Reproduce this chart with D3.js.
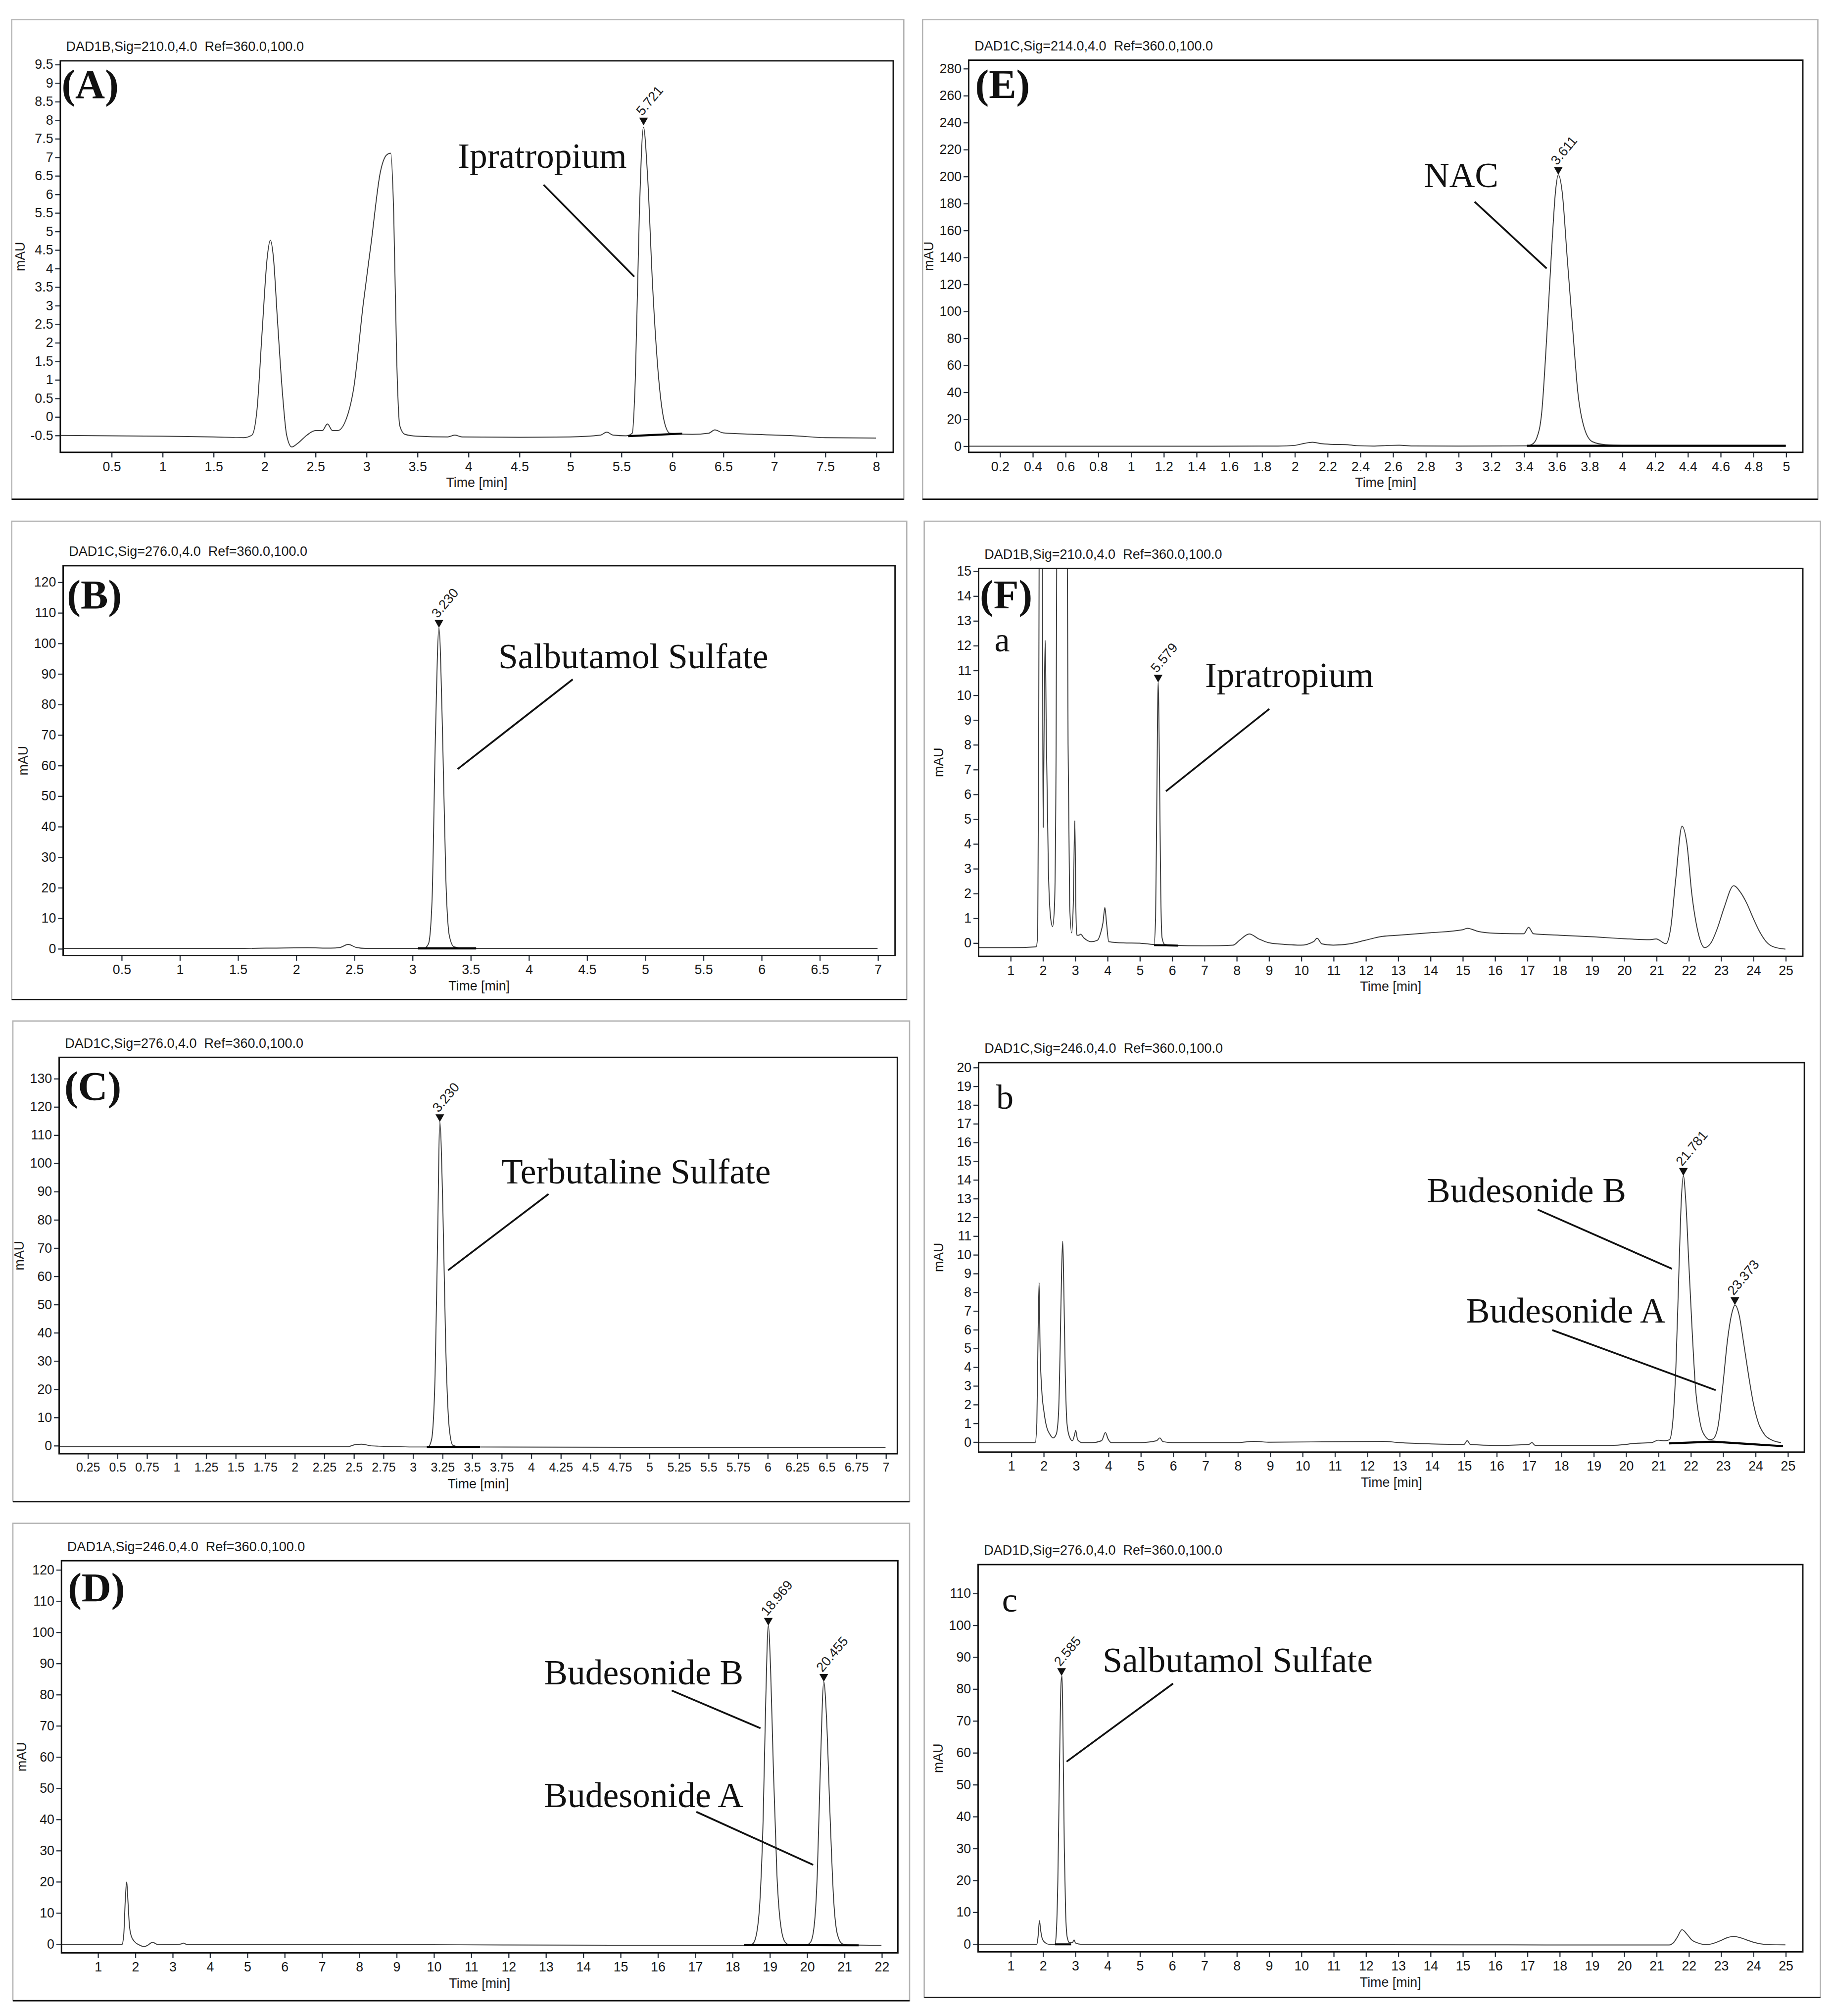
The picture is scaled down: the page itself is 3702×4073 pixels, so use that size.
<!DOCTYPE html>
<html>
<head>
<meta charset="utf-8">
<script src="https://cdn.jsdelivr.net/npm/d3@7"></script>
<style>
  html, body { margin: 0; padding: 0; background: #fff; }
  svg { display: block; }
  .header { white-space: pre; }
</style>
</head>
<body>
<div id="chart"></div>
<script>
// ---------- data: [time (min), signal (mAU)] ----------

const traceA = [[0,-0.51],[0.5,-0.52],[1.0,-0.53],[1.5,-0.55],[1.8,-0.57],[1.88,-0.5],[1.93,0.2],[1.98,2.3],[2.03,4.3],[2.06,4.75],[2.09,4.3],[2.13,2.6],[2.18,0.6],[2.22,-0.5],[2.27,-0.82],[2.33,-0.72],[2.42,-0.5],[2.5,-0.38],[2.57,-0.38],[2.62,-0.2],[2.67,-0.38],[2.72,-0.38],[2.8,-0.1],[2.88,0.8],[2.97,3.0],[3.05,4.7],[3.14,6.6],[3.2,7.05],[3.24,7.1],[3.27,5.5],[3.3,1.5],[3.33,-0.25],[3.38,-0.48],[3.5,-0.53],[3.8,-0.55],[3.87,-0.5],[3.94,-0.55],[4.5,-0.56],[5.0,-0.55],[5.3,-0.5],[5.36,-0.42],[5.42,-0.5],[5.55,-0.52],[5.61,-0.45],[5.64,1.0],[5.68,5.5],[5.72,7.8],[5.76,6.5],[5.81,3.5],[5.87,1.0],[5.93,-0.2],[5.98,-0.45],[6.2,-0.48],[6.36,-0.45],[6.42,-0.36],[6.5,-0.44],[6.8,-0.48],[7.2,-0.52],[7.5,-0.57],[8.0,-0.58]];

const traceE = [[0,-0.3],[0.5,-0.3],[1.0,-0.3],[1.5,-0.3],[1.9,-0.2],[2.0,0.3],[2.06,1.8],[2.11,2.6],[2.17,1.5],[2.24,1.0],[2.31,0.9],[2.38,0.1],[2.48,-0.2],[2.58,0.3],[2.64,0.4],[2.72,-0.1],[3.0,-0.2],[3.3,-0.1],[3.42,0],[3.45,1],[3.48,6],[3.51,25],[3.54,80],[3.57,145],[3.595,190],[3.611,201],[3.635,188],[3.665,140],[3.70,85],[3.73,40],[3.77,13],[3.82,3],[3.9,0.8],[4.0,0.3],[4.5,0],[5.0,0]];

const traceB = [[0,0],[1.5,0],[1.9,0.15],[2.1,0.2],[2.3,0.1],[2.38,0.3],[2.45,1.3],[2.52,0.3],[2.6,0],[3.1,0],[3.14,1.5],[3.17,15],[3.2,70],[3.23,105],[3.26,72],[3.29,22],[3.32,4],[3.36,0.5],[3.45,0],[5,0],[7.0,0]];

const traceC = [[0,-0.5],[2,-0.5],[2.45,-0.5],[2.52,0.3],[2.57,0.4],[2.65,-0.2],[2.8,-0.4],[3.0,-0.6],[3.13,-0.6],[3.16,2],[3.19,25],[3.21,70],[3.23,114.5],[3.255,85],[3.28,35],[3.31,6],[3.34,0],[3.4,-0.6],[5,-0.7],[7,-0.7]];

const traceD = [[0,-0.3],[1.0,-0.3],[1.65,-0.3],[1.7,3],[1.74,14],[1.78,19.8],[1.81,14],[1.85,6],[1.9,2.5],[1.98,0.8],[2.1,-0.3],[2.25,-0.9],[2.35,-0.4],[2.47,0.5],[2.6,-0.2],[3.0,-0.3],[3.22,-0.1],[3.3,0.2],[3.4,-0.3],[4,-0.3],[8,-0.2],[12,-0.4],[18.4,-0.5],[18.55,0],[18.65,3],[18.75,15],[18.83,40],[18.9,78],[18.969,102],[19.03,88],[19.1,58],[19.2,22],[19.3,6],[19.42,0.5],[19.55,-0.4],[20.0,-0.3],[20.1,0.5],[20.2,6],[20.28,22],[20.36,55],[20.455,84],[20.53,72],[20.62,42],[20.72,14],[20.82,3],[20.95,0],[21.1,-0.4],[22,-0.5]];

const traceFa = [[0,-0.2],[1.0,-0.2],[1.8,-0.17],[1.85,0.3],[1.88,8],[1.92,30],[1.96,40],[1.99,20],[2.02,4.66],[2.05,9],[2.08,12.2],[2.12,8],[2.18,3],[2.25,1.0],[2.31,0.65],[2.37,1.5],[2.42,8],[2.46,25],[2.55,40],[2.65,40],[2.74,25],[2.79,8],[2.84,1.5],[2.9,0.4],[2.95,1.5],[3.0,4.92],[3.03,1.5],[3.06,0.3],[3.12,0.3],[3.18,0.34],[3.28,0.19],[3.4,0.08],[3.5,0.04],[3.7,0.1],[3.8,0.4],[3.87,0.8],[3.93,1.42],[3.98,0.8],[4.05,0.04],[4.5,-0.01],[5.0,-0.02],[5.45,-0.07],[5.5,1],[5.54,6],[5.579,10.5],[5.62,7],[5.66,2],[5.7,0.2],[5.78,-0.07],[6,-0.1],[7,-0.13],[7.9,-0.1],[8.1,0.1],[8.4,0.35],[8.7,0.15],[9,0],[9.5,-0.07],[10,-0.1],[10.4,0.05],[10.5,0.18],[10.65,-0.05],[11,-0.1],[11.5,-0.05],[12,0.1],[12.5,0.25],[13,0.3],[14,0.4],[15,0.52],[15.15,0.58],[15.5,0.45],[16,0.38],[16.9,0.36],[17.05,0.62],[17.2,0.36],[18,0.3],[19,0.24],[20,0.16],[20.8,0.12],[21,0.15],[21.3,-0.04],[21.45,0.6],[21.6,2.5],[21.8,4.7],[21.95,4],[22.1,2.0],[22.3,0.4],[22.5,-0.2],[22.7,0],[22.9,0.6],[23.1,1.4],[23.4,2.3],[23.6,2.05],[23.8,1.6],[24.0,1.0],[24.2,0.45],[24.4,0.05],[24.6,-0.15],[25,-0.26]];

const traceFb = [[0,-0.05],[1.0,-0.05],[1.75,-0.05],[1.8,1],[1.84,6],[1.87,8.5],[1.9,5],[1.95,2.8],[2.02,1.6],[2.1,0.8],[2.2,0.4],[2.3,0.2],[2.4,0.4],[2.47,1.5],[2.52,5],[2.57,9.5],[2.6,10.7],[2.63,8.5],[2.68,3.5],[2.73,1.0],[2.8,0.3],[2.9,0.05],[2.97,0.4],[3.0,0.6],[3.06,0.1],[3.2,-0.05],[3.5,-0.05],[3.8,0.05],[3.92,0.49],[4.0,0.15],[4.1,-0.05],[5.0,-0.05],[5.5,0.05],[5.6,0.2],[5.7,0.0],[6,-0.05],[8,-0.05],[8.5,0.02],[9,-0.03],[11,0],[12.5,0.02],[13,-0.05],[14,-0.12],[15,-0.15],[15.1,0.05],[15.2,-0.15],[16,-0.2],[17,-0.15],[17.1,-0.05],[17.2,-0.2],[18,-0.2],[19.5,-0.2],[20,-0.15],[20.2,-0.1],[20.8,-0.05],[21,0.08],[21.2,0.05],[21.35,0.1],[21.45,1.0],[21.55,4.0],[21.65,9.5],[21.72,13],[21.781,14.2],[21.85,13],[21.95,9.5],[22.05,6],[22.15,3],[22.3,1.0],[22.45,0.3],[22.6,0.1],[22.7,0.15],[22.85,0.8],[23.0,3.0],[23.15,5.5],[23.3,7.0],[23.373,7.3],[23.5,6.8],[23.65,5.2],[23.8,3.5],[23.95,2.0],[24.1,1.0],[24.3,0.35],[24.5,0.1],[24.8,-0.05]];

const traceFc = [[0,-0.2],[1.0,-0.2],[1.82,-0.2],[1.86,2.5],[1.9,7.2],[1.94,4],[1.99,1.5],[2.08,0.3],[2.2,-0.2],[2.38,-0.2],[2.42,3],[2.47,20],[2.52,55],[2.57,82],[2.6,84],[2.63,65],[2.67,30],[2.71,10],[2.76,2],[2.83,0.3],[2.92,0.3],[2.97,1.2],[3.02,0.2],[3.2,-0.2],[5,-0.3],[10,-0.3],[15,-0.35],[20,-0.4],[21.4,-0.4],[21.55,0.5],[21.65,2],[21.8,4.4],[21.95,3],[22.1,1.2],[22.3,0.2],[22.55,-0.3],[22.8,0.2],[23.0,1.0],[23.2,1.9],[23.4,2.3],[23.6,1.9],[23.8,1.2],[24.0,0.5],[24.2,0],[24.5,-0.3],[25,-0.35]];

// integration baselines (drawn bold)
const baseA = [[[5.57,-0.53],[6.1,-0.46]]];
const baseE = [[[3.42,0],[5.0,0]]];
const baseB = [[[3.05,0],[3.55,0]]];
const baseC = [[[3.12,-0.6],[3.57,-0.6]]];
const baseD = [[[18.32,-0.4],[21.39,-0.5]]];
const baseFa = [[[5.45,-0.1],[6.2,-0.12]]];
const baseFb = [[[21.34,-0.09],[22.69,0],[24.86,-0.24]]];
const baseFc = [[[2.38,-0.2],[2.88,-0.2]]];

// retention-time markers: [time, apex mAU, label]
const peaksA = [[5.721, 7.85, "5.721"]];
const peaksE = [[3.611, 201, "3.611"]];
const peaksB = [[3.23, 105, "3.230"]];
const peaksC = [[3.23, 114.5, "3.230"]];
const peaksD = [[18.969, 102, "18.969"], [20.455, 84, "20.455"]];
const peaksFa = [[5.579, 10.5, "5.579"]];
const peaksFb = [[21.781, 14.2, "21.781"], [23.373, 7.3, "23.373"]];
const peaksFc = [[2.585, 84, "2.585"]];

// compound names with leader lines, in data units: text anchor, line start, line end
const notesA = [{ text: "Ipratropium", at: [3.90, 6.71], from: [4.74, 6.25], to: [5.63, 3.77] }];
const notesE = [{ text: "NAC", at: [2.79, 192], from: [3.10, 181], to: [3.54, 131.5] }];
const notesB = [{ text: "Salbutamol Sulfate", at: [3.74, 91.8], from: [4.38, 88.1], to: [3.39, 58.7] }];
const notesC = [{ text: "Terbutaline Sulfate", at: [3.75, 92.7], from: [4.15, 89], to: [3.30, 62] }];
const notesD = [
  { text: "Budesonide B", at: [12.96, 83.2], from: [16.38, 81.2], to: [18.76, 69.1] },
  { text: "Budesonide A", at: [12.96, 43.8], from: [17.04, 42.3], to: [20.17, 25.3] }
];
const notesFa = [{ text: "Ipratropium", at: [7.03, 10.31], from: [9.02, 9.43], to: [5.82, 6.11] }];
const notesFb = [
  { text: "Budesonide B", at: [13.85, 12.79], from: [17.28, 12.39], to: [21.43, 9.23] },
  { text: "Budesonide A", at: [15.07, 6.36], from: [17.73, 5.96], to: [22.78, 2.75] }
];
const notesFc = [{ text: "Salbutamol Sulfate", at: [3.86, 85.2], from: [6.04, 81.6], to: [2.74, 57.1] }];

// tick values
const xTicksA = d3.range(1, 17).map(i => i * 0.5);
const yTicksA = d3.range(-1, 20).map(i => i * 0.5);
const xTicksE = d3.range(1, 26).map(i => i * 0.2);
const yTicksE = d3.range(0, 15).map(i => i * 20);
const xTicksB = d3.range(1, 15).map(i => i * 0.5);
const yTicksB = d3.range(0, 13).map(i => i * 10);
const xTicksC = d3.range(1, 29).map(i => i * 0.25);
const yTicksC = d3.range(0, 14).map(i => i * 10);
const xTicksD = d3.range(1, 23);
const yTicksD = d3.range(0, 13).map(i => i * 10);
const xTicksF = d3.range(1, 26);
const yTicksFa = d3.range(0, 16);
const yTicksFb = d3.range(0, 21);
const yTicksFc = d3.range(0, 12).map(i => i * 10);

// ---------- layout (drawn in a 1425 x 1568 coordinate space, scaled to the page) ----------

const fontSans = "'Liberation Sans', Arial, Helvetica, sans-serif";
const fontSerif = "'Liberation Serif', 'Times New Roman', Times, serif";

const panels = [
  { id: "A", box: [46.9, 694.8, 47.3, 351.8], xDomain: [0, 8.17], yDomain: [-0.965, 9.59],
    xTicks: xTicksA, yTicks: yTicksA, header: "DAD1B,Sig=210.0,4.0  Ref=360.0,100.0",
    label: "(A)", labelDx: 1, labelDy: 29, trace: traceA, bases: baseA, peaks: peaksA, notes: notesA },
  { id: "E", box: [753.5, 1402.3, 46.8, 351.8], xDomain: [0.011, 5.104], yDomain: [-4.83, 286],
    xTicks: xTicksE, yTicks: yTicksE, header: "DAD1C,Sig=214.0,4.0  Ref=360.0,100.0",
    label: "(E)", labelDx: 5, labelDy: 29.5, trace: traceE, bases: baseE, peaks: peaksE, notes: notesE },
  { id: "B", box: [49.1, 696.2, 440.0, 743.2], xDomain: [0, 7.15], yDomain: [-2.34, 125.3],
    xTicks: xTicksB, yTicks: yTicksB, header: "DAD1C,Sig=276.0,4.0  Ref=360.0,100.0",
    label: "(B)", labelDx: 3, labelDy: 33, trace: traceB, bases: baseB, peaks: peaksB, notes: notesB },
  { id: "C", box: [46.0, 698, 822.4, 1130.7], xDomain: [0.01, 7.1], yDomain: [-3.0, 137.4],
    xTicks: xTicksC, yTicks: yTicksC, xFont: 9.6, header: "DAD1C,Sig=276.0,4.0  Ref=360.0,100.0",
    label: "(C)", labelDx: 4, labelDy: 33, trace: traceC, bases: baseC, peaks: peaksC, notes: notesC },
  { id: "D", box: [47.8, 698.4, 1213.9, 1518.9], xDomain: [0.03, 22.44], yDomain: [-2.92, 122.8],
    xTicks: xTicksD, yTicks: yTicksD, header: "DAD1A,Sig=246.0,4.0  Ref=360.0,100.0",
    label: "(D)", labelDx: 5, labelDy: 31.5, trace: traceD, bases: baseD, peaks: peaksD, notes: notesD },
  { id: "Fa", box: [761.2, 1402.3, 442.1, 743.8], xDomain: [0.02, 25.54], yDomain: [-0.55, 15.1],
    xTicks: xTicksF, yTicks: yTicksFa, header: "DAD1B,Sig=210.0,4.0  Ref=360.0,100.0",
    label: "(F)", labelDx: 1, labelDy: 31, sub: "a", subDx: 12.3, subDy: 64.5,
    trace: traceFa, bases: baseFa, peaks: peaksFa, notes: notesFa },
  { id: "Fb", box: [761.2, 1403.5, 826.5, 1129.4], xDomain: [0, 25.52], yDomain: [-0.556, 20.24],
    xTicks: xTicksF, yTicks: yTicksFb, header: "DAD1C,Sig=246.0,4.0  Ref=360.0,100.0",
    sub: "b", subDx: 13.7, subDy: 36, trace: traceFb, bases: baseFb, peaks: peaksFb, notes: notesFb },
  { id: "Fc", box: [760.8, 1402.3, 1216.9, 1518.1], xDomain: [0, 25.54], yDomain: [-2.55, 118.9],
    xTicks: xTicksF, yTicks: yTicksFc, header: "DAD1D,Sig=276.0,4.0  Ref=360.0,100.0",
    sub: "c", subDx: 18.6, subDy: 36.7, trace: traceFc, bases: baseFc, peaks: peaksFc, notes: notesFc }
];

// outer frames round each panel: [left, right, top, bottom]
const frames = [
  [9.1, 703, 15.3, 388.3],
  [717.6, 1414, 15.3, 388.3],
  [9.1, 705.3, 405.4, 777.4],
  [10, 707.5, 794.1, 1167.9],
  [10, 707.5, 1184.8, 1556.1],
  [718.9, 1416, 405.4, 1553.5]
];

const svg = d3.select("#chart")
  .append("svg")
  .attr("width", 3702)
  .attr("height", 4073)
  .attr("viewBox", "0 0 1425 1568")
  .attr("preserveAspectRatio", "none");

svg.append("rect").attr("width", 1425).attr("height", 1568).attr("fill", "#fff");
const defs = svg.append("defs");

// frames
frames.forEach(([l, r, t, b]) => {
  svg.append("rect")
    .attr("x", l).attr("y", t)
    .attr("width", r - l).attr("height", b - t)
    .attr("fill", "none")
    .attr("stroke", "#b4b4b4")
    .attr("stroke-width", 1);
  svg.append("line")
    .attr("x1", l).attr("x2", r).attr("y1", b).attr("y2", b)
    .attr("stroke", "#111")
    .attr("stroke-width", 1.1);
});

const fmt = d => String(+d.toFixed(2));

panels.forEach(p => {
  const [left, right, top, bottom] = p.box;
  const x = d3.scaleLinear().domain(p.xDomain).range([left, right]);
  const y = d3.scaleLinear().domain(p.yDomain).range([bottom, top]);
  const g = svg.append("g");

  const clipId = "clip-" + p.id;
  defs.append("clipPath").attr("id", clipId)
    .append("rect")
    .attr("x", left).attr("y", top)
    .attr("width", right - left).attr("height", bottom - top);

  // instrument header
  g.append("text")
    .attr("class", "header")
    .attr("xml:space", "preserve")
    .attr("x", left + 4.5)
    .attr("y", top - 7.5)
    .attr("font-family", fontSans)
    .attr("font-size", 10.4)
    .attr("fill", "#1a1a1a")
    .text(p.header);

  // axes
  const xAxis = d3.axisBottom(x).tickValues(p.xTicks).tickFormat(fmt).tickSize(4).tickPadding(3.2);
  const yAxis = d3.axisLeft(y).tickValues(p.yTicks).tickFormat(fmt).tickSize(4).tickPadding(1.5);
  const xg = g.append("g").attr("transform", `translate(0,${bottom})`).call(xAxis);
  const yg = g.append("g").attr("transform", `translate(${left},0)`).call(yAxis);
  [xg, yg].forEach(a => {
    a.select(".domain").remove();
    a.attr("font-family", fontSans).attr("font-size", 10.3);
    a.selectAll(".tick line").attr("stroke", "#2b3440").attr("stroke-width", 0.9);
    a.selectAll(".tick text").attr("fill", "#1a1a1a");
  });
  if (p.xFont) xg.attr("font-size", p.xFont);

  // axis titles
  g.append("text")
    .attr("x", (left + right) / 2)
    .attr("y", bottom + 27)
    .attr("text-anchor", "middle")
    .attr("font-family", fontSans)
    .attr("font-size", 10.3)
    .attr("fill", "#1a1a1a")
    .text("Time [min]");
  g.append("text")
    .attr("transform", `translate(${left - 27.5},${(top + bottom) / 2}) rotate(-90)`)
    .attr("text-anchor", "middle")
    .attr("font-family", fontSans)
    .attr("font-size", 10.3)
    .attr("fill", "#1a1a1a")
    .text("mAU");

  // signal trace and integration baselines
  const plot = g.append("g").attr("clip-path", `url(#${clipId})`);
  const line = d3.line().x(d => x(d[0])).y(d => y(d[1])).curve(d3.curveMonotoneX);
  plot.append("path")
    .datum(p.trace)
    .attr("d", line)
    .attr("fill", "none")
    .attr("stroke", "#3c3c3c")
    .attr("stroke-width", 0.75)
    .attr("stroke-linejoin", "round");

  const straight = d3.line().x(d => x(d[0])).y(d => y(d[1]));
  p.bases.forEach(b => {
    plot.append("path")
      .datum(b)
      .attr("d", straight)
      .attr("fill", "none")
      .attr("stroke", "#000")
      .attr("stroke-width", 1.6);
  });

  // plot frame
  g.append("rect")
    .attr("x", left).attr("y", top)
    .attr("width", right - left).attr("height", bottom - top)
    .attr("fill", "none")
    .attr("stroke", "#111")
    .attr("stroke-width", 1.1);

  // retention time markers
  p.peaks.forEach(([t, v, lab]) => {
    const px = x(t), py = y(v);
    g.append("path")
      .attr("d", `M${px - 3.4},${py - 6}L${px + 3.4},${py - 6}L${px},${py}Z`)
      .attr("fill", "#111");
    g.append("text")
      .attr("transform", `translate(${px - 1},${py - 7}) rotate(-50)`)
      .attr("font-family", fontSans)
      .attr("font-size", 10.4)
      .attr("fill", "#222")
      .text(lab);
  });

  // compound names
  p.notes.forEach(n => {
    g.append("text")
      .attr("x", x(n.at[0]))
      .attr("y", y(n.at[1]))
      .attr("font-family", fontSerif)
      .attr("font-size", 27.5)
      .attr("fill", "#111")
      .text(n.text);
    g.append("line")
      .attr("x1", x(n.from[0])).attr("y1", y(n.from[1]))
      .attr("x2", x(n.to[0])).attr("y2", y(n.to[1]))
      .attr("stroke", "#111")
      .attr("stroke-width", 1.4);
  });

  // panel letters
  if (p.label) {
    g.append("text")
      .attr("x", left + p.labelDx)
      .attr("y", top + p.labelDy)
      .attr("font-family", fontSerif)
      .attr("font-weight", "bold")
      .attr("font-size", 32)
      .attr("fill", "#111")
      .text(p.label);
  }
  if (p.sub) {
    g.append("text")
      .attr("x", left + p.subDx)
      .attr("y", top + p.subDy)
      .attr("font-family", fontSerif)
      .attr("font-size", 27)
      .attr("fill", "#111")
      .text(p.sub);
  }
});
</script>
</body>
</html>
